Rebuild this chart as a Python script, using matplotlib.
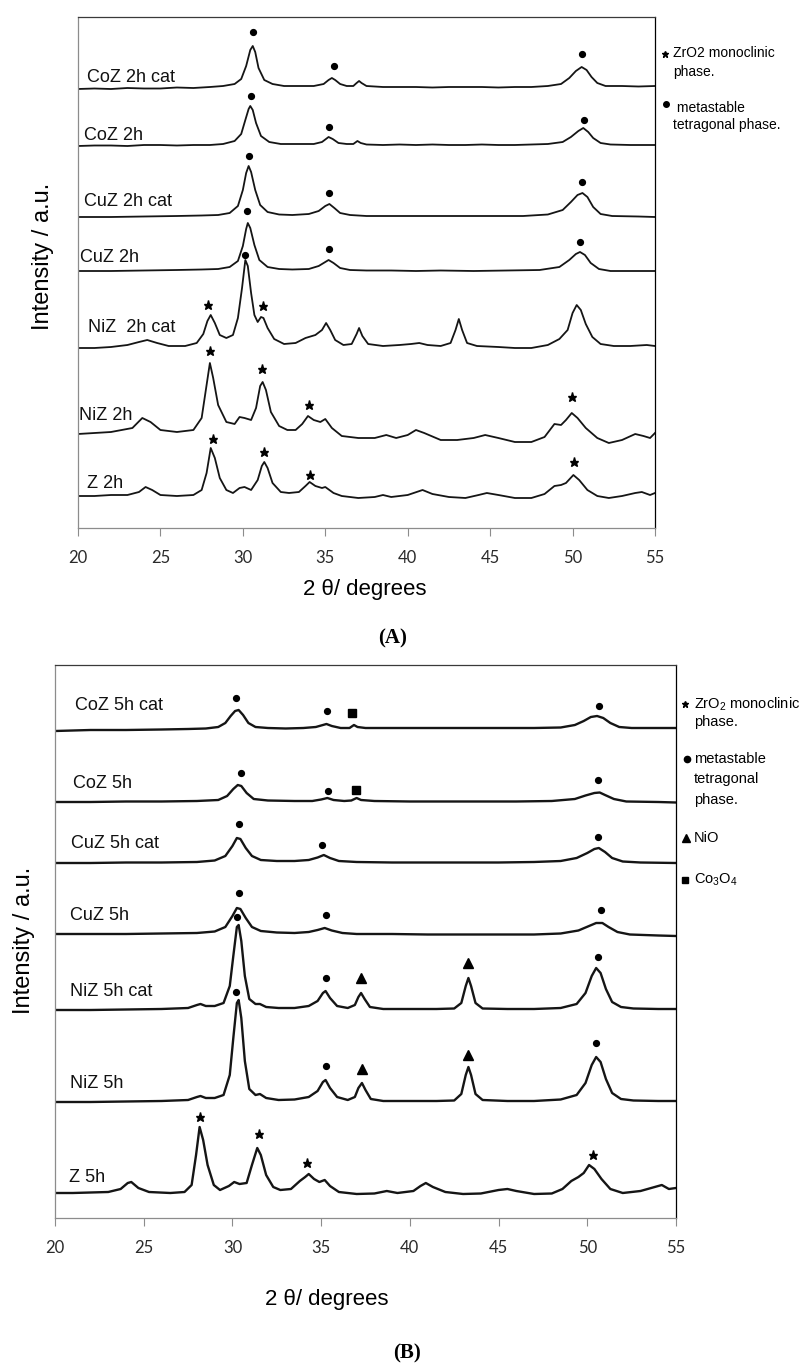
import numpy as np
import matplotlib.pyplot as plt
from matplotlib.lines import Line2D

plt.rcParams['font.family'] = ['Liberation Sans', 'DejaVu Sans']
plt.rcParams['mathtext.fontset'] = 'custom'
plt.rcParams['mathtext.rm'] = 'Liberation Sans'

# ---------------- panel A : 2 h samples, (2theta, intensity a.u.) ----------------
coz_2h_cat = [(20,1),(21,1.5),(22,1),(23,2),(24,1.5),(25,1.5),(26,2.5),(27,2),(28,3),(28.8,4),(29.5,6),
              (29.9,11),(30.2,24),(30.45,40),(30.6,44),(30.75,38),(30.95,22),(31.3,10),(31.8,6),(32.5,4),
              (33.5,4),(34.3,4),(34.9,6),(35.2,10),(35.4,12),(35.6,10),(35.9,6),(36.3,4),(36.7,4),(36.9,7),
              (37.05,9),(37.2,7),(37.5,4),(38.5,3),(39.5,3),(40.5,3),(41.5,2.5),(42.5,3),(43.5,3),(44.5,3),
              (45.5,2.5),(46.5,3),(47.5,3),(48.5,4),(49.3,6),(49.8,12),(50.2,19),(50.55,23),(50.85,20),
              (51.15,13),(51.5,7),(52,4),(53,4),(54,3.5),(55,4)]
coz_2h = [(20,1),(21,1.5),(22,1.5),(23,1),(24,2),(25,2),(26,1.5),(27,2),(28,2),(28.8,3),(29.5,6),(29.9,13),
          (30.15,27),(30.35,38),(30.45,41),(30.6,37),(30.8,24),(31.1,11),(31.6,5),(32.3,3),(33.3,3),(34.3,3),
          (34.8,5),(35.2,10),(35.45,8),(35.8,4),(36.3,3),(36.7,3),(36.95,6),(37.15,4),(37.5,2.5),(38.5,2),
          (39.5,2.5),(40.5,2),(41.5,2.5),(42.5,2),(43.5,2),(44.5,2.5),(45.5,2),(46.5,2),(47.5,2.5),(48.5,3),
          (49.4,5),(49.9,10),(50.35,16),(50.65,19),(50.95,15),(51.25,9),(51.7,4),(52.3,2.5),(53.5,2),(55,2)]
cuz_2h_cat = [(20,1),(22,1),(24,1.5),(26,2),(27.5,2.5),(28.5,3),(29.2,5),(29.7,12),(30.0,28),(30.2,45),
              (30.35,52),(30.5,46),(30.75,28),(31.05,13),(31.5,6),(32.2,3.5),(33,3),(34,4),(34.6,7),(35.0,12),
              (35.25,14),(35.55,10),(35.9,5),(36.5,3),(37.5,2),(39,2),(41,2),(43,2),(45,2),(47,2),(48.5,3.5),
              (49.4,8),(49.9,16),(50.3,23),(50.6,25),(50.9,21),(51.25,11),(51.7,4),(52.4,2),(54,1.5),(55,1)]
cuz_2h = [(20,1),(22,1),(24,1.5),(26,2),(27.5,2.5),(28.5,3),(29.2,5),(29.7,11),(30.0,26),(30.2,43),(30.3,49),
          (30.45,44),(30.7,27),(31.0,12),(31.5,5),(32.2,3),(33,2.5),(34,3),(34.6,6),(35.0,10),(35.2,12),
          (35.5,9),(35.9,4),(36.5,2),(37.5,1.5),(39,1.5),(40.5,1),(42,1.5),(44,1),(46,1.5),(48,2),(49.2,5),
          (49.8,12),(50.2,18),(50.45,20),(50.75,17),(51.1,9),(51.6,3),(52.3,1),(54,1),(55,1)]
niz_2h_cat = [(20,4),(21,4),(22,5),(23,7),(23.7,10),(24.2,12),(24.8,9),(25.5,6),(26.5,6),(27.2,9),(27.6,18),
              (27.85,31),(28.05,37),(28.3,29),(28.6,17),(29.0,14),(29.4,17),(29.7,34),(29.95,64),(30.15,92),
              (30.3,86),(30.5,59),(30.7,37),(30.9,30),(31.1,35),(31.25,34),(31.5,24),(31.9,13),(32.5,8),
              (33.2,9),(33.8,14),(34.4,17),(34.8,22),(35.05,29),(35.3,22),(35.6,12),(36.1,7),(36.6,8),
              (36.9,18),(37.05,24),(37.25,16),(37.6,8),(38.5,6),(39.5,7),(40.2,8),(40.7,9),(41.2,7),(42,6),
              (42.6,9),(42.9,22),(43.1,33),(43.3,22),(43.6,9),(44.2,6),(45.5,5),(46.5,4),(47.5,4),(48.5,7),
              (49.2,13),(49.7,22),(50.0,39),(50.25,47),(50.5,42),(50.8,28),(51.2,15),(51.7,8),(52.5,6),
              (53.5,6),(54.5,7),(55,6)]
niz_2h = [(20,9),(22,11),(23.3,15),(23.9,25),(24.4,21),(25,13),(26,11),(27,13),(27.5,25),(27.8,58),(28.0,80),
          (28.2,65),(28.5,38),(29,21),(29.5,19),(29.8,26),(30.1,25),(30.5,23),(30.8,35),(31.05,57),(31.2,61),
          (31.4,53),(31.7,31),(32.2,17),(32.7,13),(33.2,13),(33.6,19),(33.95,27),(34.3,23),(34.7,21),(35.0,24),
          (35.4,15),(36,7),(37,5),(38,5),(38.7,8),(39.3,5),(40,8),(40.5,13),(41,10),(42,3),(43,3),(44,5),
          (44.7,8),(45.5,5),(46.5,1),(47.5,1),(48.3,6),(48.9,19),(49.3,18),(49.6,23),(49.95,30),(50.3,25),
          (50.8,15),(51.5,5),(52.2,0),(53,3),(53.8,9),(54.3,7),(54.7,5),(55,10)]
z_2h = [(20,2),(21,2),(22,3),(23,3),(23.7,6),(24.1,11),(24.5,8),(25,3),(26,2),(27,3),(27.5,8),(27.8,25),
        (28.05,50),(28.3,40),(28.6,20),(29.0,8),(29.4,5),(29.8,10),(30.1,11),(30.5,8),(30.9,18),(31.15,32),
        (31.3,36),(31.5,30),(31.8,15),(32.3,6),(32.8,5),(33.4,6),(33.8,12),(34.05,16),(34.4,12),(34.8,10),
        (35.0,11),(35.5,5),(36,2),(37,0),(38,1),(38.5,3),(39,1),(40,3),(40.9,8),(41.5,4),(42.5,1),(43.5,0),
        (44.3,3),(44.8,5),(45.5,3),(46.5,0),(47.5,0),(48.3,4),(48.9,12),(49.3,13),(49.6,15),(50.05,23),
        (50.4,18),(50.9,8),(51.5,2),(52.2,0),(53,2),(53.8,5),(54.2,6),(54.7,3),(55,5)]

labels_a = ['CoZ 2h cat', 'CoZ 2h', 'CuZ 2h cat', 'CuZ 2h', 'NiZ  2h cat', 'NiZ 2h', 'Z 2h']
# phase markers: (trace index, 2theta, height above trace floor)
dots_a = [(0,30.6,58),(0,35.5,24),(0,50.6,36),(1,30.5,51),(1,35.2,20),(1,50.7,27),
          (2,30.4,62),(2,35.25,25),(2,50.6,36),(3,30.25,61),(3,35.2,23),(3,50.45,30),(4,30.1,97)]
stars_a = [(4,27.9,47),(4,31.2,46),(5,28.0,92),(5,31.15,74),(5,34.0,38),(5,49.95,46),
           (6,28.2,59),(6,31.3,46),(6,34.05,23),(6,50.1,36)]

# ---------------- panel B : 5 h samples ----------------
coz_5h_cat = [(20,0),(22,1),(24,1),(26,1.5),(27.5,2),(28.5,2.5),(29.2,4),(29.6,8),(29.9,15),(30.15,20),
              (30.35,21),(30.6,16),(30.9,8),(31.3,4),(32,3),(33,2.5),(34,3),(34.7,4),(35.1,6),(35.3,7),
              (35.6,5),(36.1,3),(36.6,3),(36.85,6),(37.05,4),(37.5,3),(39,3),(41,3),(43,3),(45,3),(47,3),
              (48.5,3.5),(49.3,6),(49.8,10),(50.2,14),(50.55,15),(50.9,13),(51.3,8),(51.8,4),(52.5,3),(54,3),(55,3)]
coz_5h = [(20,1),(22,1),(24,1.5),(26,1.5),(28,2),(29.2,3),(29.7,7),(30.05,14),(30.3,18),(30.5,17),(30.8,10),
          (31.2,4),(32,2.5),(33.5,2),(34.5,2),(35.0,3.5),(35.35,5),(35.7,3),(36.3,2),(36.7,2.5),(37.0,5),
          (37.25,3),(38,2),(40,1.5),(42,1.5),(44,1.5),(46,1.5),(48,2),(49.3,4),(49.9,7.5),(50.4,10),
          (50.7,10.5),(51.0,8),(51.5,4),(52.2,1.5),(54,1),(55,0.5)]
cuz_5h_cat = [(20,1),(22,1),(24,1.5),(26,1.5),(28,2),(29,3.5),(29.6,8),(30.0,18),(30.25,26),(30.45,25),
              (30.75,16),(31.1,8),(31.6,4),(32.5,3),(33.5,3),(34.3,4),(34.8,6.5),(35.15,9),(35.5,6),(36,3),
              (37,2),(39,1.5),(41,1.5),(43,1.5),(45,1.5),(47,2),(48.5,3),(49.4,6),(50,11),(50.4,15),
              (50.65,16),(51.0,12),(51.4,6),(52,2.5),(53,1.5),(55,1)]
cuz_5h = [(20,2),(22,2),(24,2),(26,2.5),(28,3),(29,4.5),(29.6,9),(30.0,20),(30.25,28),(30.45,27),(30.75,18),
          (31.1,9),(31.6,5),(32.5,3.5),(33.5,3),(34.3,4),(34.8,6),(35.2,8),(35.6,5.5),(36.2,3),(37,2),(39,2),
          (41,1.5),(43,1.5),(45,1.5),(47,1.5),(48.5,2.5),(49.5,5.5),(50.1,10),(50.5,13),(50.85,13),(51.2,9),
          (51.7,4),(52.4,1.5),(54,0.5),(55,0)]
niz_5h_cat = [(20,1),(22,1),(24,1.5),(26,2),(27.5,3),(28.0,6),(28.2,7),(28.5,5),(29.0,5),(29.5,8),(29.85,25),
              (30.05,55),(30.25,84),(30.35,86),(30.5,70),(30.7,35),(30.95,12),(31.3,7),(31.55,7),(31.9,4),
              (32.6,3),(33.5,3),(34.3,5),(34.8,10),(35.1,18),(35.25,20),(35.5,13),(35.9,5),(36.5,3),(36.9,6),
              (37.1,14),(37.25,18),(37.45,12),(37.75,4),(38.5,2),(40,2),(41.5,2),(42.5,2.5),(42.9,8),
              (43.15,25),(43.3,33),(43.45,25),(43.7,8),(44.1,2.5),(45.5,2),(47,2),(48.5,3),(49.4,7),(49.9,18),
              (50.25,35),(50.5,43),(50.75,38),(51.05,22),(51.4,9),(51.9,4),(52.6,2.5),(54,2),(55,2)]
niz_5h = [(20,1),(22,1),(24,1.5),(26,2),(27.5,3),(28.0,6),(28.2,7),(28.5,5),(29.0,5),(29.5,8),(29.85,28),
          (30.05,65),(30.25,100),(30.35,103),(30.5,85),(30.7,42),(30.95,14),(31.3,8),(31.55,9),(31.9,5),
          (32.6,3),(33.5,3.5),(34.3,6),(34.8,12),(35.1,21),(35.25,23),(35.5,15),(35.9,6),(36.5,3),(36.9,6),
          (37.1,15),(37.3,20),(37.5,13),(37.8,4),(38.5,2),(40,2),(41.5,2),(42.5,2.5),(42.9,9),(43.15,28),
          (43.3,36),(43.45,28),(43.7,9),(44.1,3),(45.5,2),(47,2),(48.5,3.5),(49.4,8),(49.9,20),(50.25,38),
          (50.5,46),(50.75,41),(51.05,24),(51.4,10),(51.9,4),(52.6,2.5),(54,2),(55,2)]
z_5h = [(20,2),(21,2),(22,2.5),(23,3),(23.7,6),(24.1,12),(24.3,13),(24.7,7),(25.3,3),(26.5,2),(27.3,3),
        (27.7,10),(27.95,40),(28.15,68),(28.35,55),(28.6,30),(28.95,10),(29.3,5),(29.8,9),(30.1,13),(30.4,11),
        (30.8,12),(31.1,30),(31.4,47),(31.6,40),(31.9,20),(32.3,8),(32.7,5),(33.3,6),(33.8,14),(34.1,18),
        (34.3,21),(34.6,16),(34.9,13),(35.2,15),(35.5,9),(36,3),(37,1),(38,1.5),(38.7,4),(39.3,2),(40.2,4),
        (40.6,9),(40.9,12),(41.3,8),(42,3),(43,1),(44,1.5),(45,5),(45.5,6),(46,4),(47,1),(48,1.5),(48.6,6),
        (49.1,14),(49.5,18),(49.8,22),(50.1,30),(50.4,26),(50.8,16),(51.3,6),(52,2),(53,4),(53.8,8),
        (54.2,10),(54.6,6),(55,7)]

labels_b = ['CoZ 5h cat', 'CoZ 5h', 'CuZ 5h cat', 'CuZ 5h', 'NiZ 5h cat', 'NiZ 5h', 'Z 5h']
dots_b = [(0,30.2,33),(0,35.35,20),(0,50.65,25),(1,30.5,30),(1,35.4,12),(1,50.6,23),
          (2,30.35,40),(2,35.05,19),(2,50.6,27),(3,30.35,43),(3,35.25,21),(3,50.8,26),
          (4,30.25,94),(4,35.25,33),(4,50.6,54),(5,30.2,111),(5,35.25,37),(5,50.5,60)]
squares_b = [(0,36.75,18),(1,36.95,13)]
triangles_b = [(4,37.25,33),(4,43.25,48),(5,37.3,34),(5,43.3,48)]
stars_b = [(6,28.2,78),(6,31.5,61),(6,34.2,32),(6,50.3,40)]

legend_a = [('ZrO2 monoclinic', 53), ('phase.', 72), (' metastable', 108), ('tetragonal phase.', 125)]
legend_b = [('ZrO$_2$ monoclinic', 704), ('phase.', 722), ('metastable', 759), ('tetragonal', 779),
            ('phase.', 800), ('NiO', 838), ('Co$_3$O$_4$', 880)]

# ---------------- layout ----------------
W, H = 799, 1367
def fx(px):
    return px / W
def fy(py):
    return 1 - py / H

fig = plt.figure(figsize=(W / 100, H / 100), dpi=100)
ax_a = fig.add_axes([fx(78), fy(528), (655 - 78) / W, (528 - 17) / H])
ax_b = fig.add_axes([fx(55), fy(1218), (676 - 55) / W, (1218 - 665) / H])

traces_a = [coz_2h_cat, coz_2h, cuz_2h_cat, cuz_2h, niz_2h_cat, niz_2h, z_2h]
traces_b = [coz_5h_cat, coz_5h, cuz_5h_cat, cuz_5h, niz_5h_cat, niz_5h, z_5h]
offsets_a = [438, 381, 310, 256, 176, 85, 30]
offsets_b = [487, 415, 354, 282, 207, 115, 23]
lab_dy_a = [12, 12, 16, 14, 24, 27, 14]
lab_x_a = [20.55, 20.35, 20.35, 20.1, 20.6, 20.05, 20.55]
lab_dy_b = [26, 20, 20, 21, 20, 20, 17]
lab_x_b = [21.1, 21.0, 20.9, 20.85, 20.85, 20.85, 20.8]


def style_axes(ax, ytop):
    ax.set_xlim(20, 55)
    ax.set_ylim(0, ytop)
    ax.set_xticks(range(20, 56, 5))
    ax.set_yticks([])
    ax.tick_params(axis='x', direction='out', length=6, width=0.8, color='#8c8c8c', pad=10,
                   labelsize=12, labelcolor='#2a2a2a')
    for t in ax.get_xticklabels():
        t.set_family('Lato')
    ax.spines['left'].set_color('#8c8c8c')
    ax.spines['bottom'].set_color('#8c8c8c')
    ax.spines['top'].set_color('#3a3a3a')
    ax.spines['right'].set_color('black')
    for s in ax.spines.values():
        s.set_linewidth(0.9)


def draw(ax, traces, offsets, labels, lab_x, lab_dy, lw):
    for pts, off, lab, lx, dy in zip(traces, offsets, labels, lab_x, lab_dy):
        tt, inten = np.array(pts).T
        ax.plot(tt, inten + off, color='#151515', lw=lw, solid_joinstyle='round')
        ax.text(lx, off + dy, lab, fontsize=13, va='center', ha='left', color='#111')


def marks(ax, pts, offsets, marker, ms):
    for i, t, h in pts:
        ax.plot(t, offsets[i] + h, ls='none', marker=marker, ms=ms, color='black',
                mec='black', clip_on=False)


style_axes(ax_a, 511)
style_axes(ax_b, 553)
draw(ax_a, traces_a, offsets_a, labels_a, lab_x_a, lab_dy_a, 1.3)
draw(ax_b, traces_b, offsets_b, labels_b, lab_x_b, lab_dy_b, 1.7)
marks(ax_a, dots_a, offsets_a, 'o', 4.2)
marks(ax_a, stars_a, offsets_a, '*', 6.5)
marks(ax_b, dots_b, offsets_b, 'o', 4.2)
marks(ax_b, stars_b, offsets_b, '*', 6.5)
marks(ax_b, squares_b, offsets_b, 's', 5.5)
marks(ax_b, triangles_b, offsets_b, '^', 7.5)

# axis titles
for cx, cy in [(365, 590), (327, 1300)]:
    fig.text(fx(cx), fy(cy), '2 θ/ degrees', fontsize=16, ha='center', va='center')
for cx, cy in [(43, 256), (24, 940)]:
    fig.text(fx(cx), fy(cy), 'Intensity / a.u.', fontsize=17, rotation=90, ha='center', va='center')

# panel captions
fig.text(fx(393), fy(638), '(A)', fontsize=15, fontweight='bold', family='Liberation Serif',
         ha='center', va='center')
fig.text(fx(407), fy(1353), '(B)', fontsize=15, fontweight='bold', family='Liberation Serif',
         ha='center', va='center')

# side legends
for txt, py in legend_a:
    fig.text(fx(673), fy(py), txt, fontsize=10, ha='left', va='center')
for txt, py in legend_b:
    fig.text(fx(694), fy(py), txt, fontsize=10.5, ha='left', va='center')

leg_marks = [(665, 54, '*', 5), (666, 104, 'o', 4),
             (685, 704, '*', 5), (687, 759, 'o', 4.5), (686, 838, '^', 6), (685, 880, 's', 5)]
for px, py, m, s in leg_marks:
    fig.add_artist(Line2D([fx(px)], [fy(py)], marker=m, ms=s, color='black', ls='none',
                          transform=fig.transFigure))

fig.savefig('out.png', dpi=100)
